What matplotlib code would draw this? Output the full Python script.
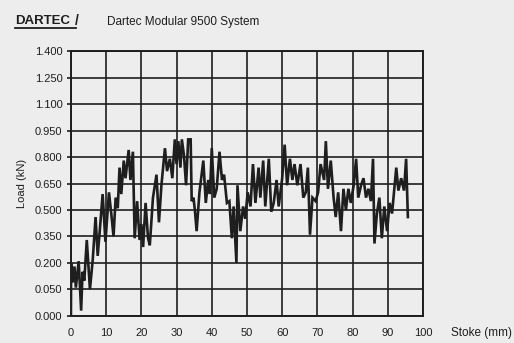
import numpy as np
import matplotlib
matplotlib.use("Agg")
import matplotlib.pyplot as plt
from matplotlib.lines import Line2D

# ---- data ----
stroke_mm = [0.0, 0.05, 0.5, 1.0, 1.4, 2.2, 2.9, 3.3, 3.8, 4.5, 5.4, 6.2, 7.0, 7.6, 8.3, 9.0,
             9.8, 10.8, 11.4, 12.1, 12.7, 13.3, 13.8, 14.3, 15.0, 15.5, 16.4, 16.9, 17.6,
             18.1, 18.8, 19.5, 20.0, 20.5, 21.2, 21.9, 22.4, 23.3, 24.3, 25.0, 25.7, 26.7,
             27.3, 28.1, 28.8, 29.5, 30.0, 30.5, 31.1, 31.5, 32.1, 32.7, 33.3, 34.0, 34.3,
             34.8, 35.2, 35.7, 36.5, 37.1, 37.6, 38.3, 39.0, 39.5, 40.0, 40.7, 41.4, 42.2,
             42.9, 43.5, 44.3, 45.0, 45.7, 46.2, 47.0, 47.3, 48.1, 48.9, 49.5, 50.2, 51.0,
             51.7, 52.4, 53.3, 53.8, 54.6, 55.2, 56.2, 56.9, 57.6, 58.4, 59.0, 60.0, 60.7,
             61.4, 62.2, 62.9, 63.5, 64.3, 65.2, 66.0, 66.7, 67.3, 67.9, 68.6, 69.5, 70.2,
             70.9, 71.9, 72.4, 73.0, 73.8, 74.6, 75.2, 75.9, 76.7, 77.4, 78.1, 78.8, 79.5,
             80.3, 81.0, 81.6, 82.4, 83.1, 83.8, 84.5, 85.2, 85.8, 86.2, 86.9, 87.6, 88.3,
             89.0, 89.8, 90.5, 91.2, 92.4, 93.0, 93.8, 94.6, 95.2, 95.7]
load_kN = [0.00, 0.20, 0.09, 0.18, 0.06, 0.21, 0.01, 0.15, 0.10, 0.33, 0.05, 0.22, 0.46,
           0.24, 0.41, 0.59, 0.32, 0.60, 0.49, 0.35, 0.57, 0.51, 0.74, 0.59, 0.78, 0.68,
           0.84, 0.67, 0.83, 0.34, 0.55, 0.33, 0.42, 0.29, 0.54, 0.34, 0.30, 0.57, 0.70,
           0.43, 0.64, 0.85, 0.72, 0.79, 0.68, 0.90, 0.76, 0.89, 0.74, 0.90, 0.81, 0.64,
           0.90, 0.90, 0.55, 0.57, 0.50, 0.38, 0.60, 0.70, 0.78, 0.54, 0.67, 0.59, 0.85,
           0.57, 0.62, 0.83, 0.67, 0.70, 0.54, 0.55, 0.34, 0.52, 0.20, 0.64, 0.38, 0.52,
           0.45, 0.60, 0.52, 0.76, 0.54, 0.74, 0.57, 0.78, 0.52, 0.79, 0.49, 0.54, 0.67,
           0.52, 0.68, 0.87, 0.64, 0.79, 0.67, 0.76, 0.64, 0.76, 0.57, 0.60, 0.74, 0.36,
           0.57, 0.55, 0.60, 0.76, 0.67, 0.89, 0.62, 0.78, 0.57, 0.46, 0.60, 0.38, 0.62,
           0.50, 0.62, 0.54, 0.64, 0.79, 0.57, 0.64, 0.68, 0.57, 0.62, 0.55, 0.79, 0.31,
           0.48, 0.57, 0.34, 0.52, 0.38, 0.54, 0.48, 0.74, 0.61, 0.68, 0.61, 0.79, 0.46]
y_ticks = [0.000, 0.050, 0.200, 0.350, 0.500, 0.650, 0.800, 0.950, 1.100, 1.250, 1.400]
y_tick_labels = ["0.000", "0.050", "0.200", "0.350", "0.500", "0.650", "0.800",
                 "0.950", "1.100", "1.250", "1.400"]
x_ticks = [0, 10, 20, 30, 40, 50, 60, 70, 80, 90, 100]

# ---- style ----
plt.rcParams['font.family'] = ['Liberation Sans', 'DejaVu Sans']
bg = '#ededed'
ink = '#1e1e1e'

def fwd(v):
    v = np.asarray(v, dtype=float)
    return np.where(v < 0.05, v / 0.05, 1 + (v - 0.05) / 0.15)

def inv(p):
    p = np.asarray(p, dtype=float)
    return np.where(p < 1, p * 0.05, 0.05 + (p - 1) * 0.15)

fig = plt.figure(figsize=(5.14, 3.43), dpi=100, facecolor=bg)
ax = fig.add_axes([0.138, 0.079, 0.685, 0.772])
ax.set_facecolor(bg)
ax.set_yscale('function', functions=(fwd, inv))
ax.set_xlim(0, 100)
ax.set_ylim(0, 1.4)

ax.set_yticks(y_ticks)
ax.set_yticklabels(y_tick_labels)
ax.set_xticks(x_ticks)
ax.minorticks_off()
ax.grid(True, color=ink, linewidth=1.2)
ax.set_axisbelow(True)
for s in ax.spines.values():
    s.set_color(ink)
    s.set_linewidth(1.4)
ax.tick_params(axis='y', length=3, width=1.2, color=ink, pad=3, labelsize=8, labelcolor=ink)
ax.tick_params(axis='x', length=0, pad=9, labelsize=8, labelcolor=ink)

ax.plot(stroke_mm, load_kN, color=ink, linewidth=1.9, solid_joinstyle='miter')

ax.set_ylabel("Load (kN)", fontsize=8, color=ink, labelpad=6)
ax.annotate("Stoke (mm)", xy=(451 / 514, 1 - 333 / 343), xycoords='figure fraction',
            ha='left', va='center', fontsize=8.5, color=ink)

fig.text(15 / 514, 1 - 21 / 343, "DARTEC", fontsize=9.5, fontweight='bold', color=ink,
         ha='left', va='center')
fig.text(75 / 514, 1 - 21 / 343, "/", fontsize=10, fontweight='bold', color=ink,
         ha='left', va='center')
fig.add_artist(Line2D([15 / 514, 76 / 514], [1 - 28 / 343, 1 - 28 / 343],
                      color=ink, linewidth=1.3, transform=fig.transFigure))
fig.text(107 / 514, 1 - 22 / 343, "Dartec Modular 9500 System", fontsize=8.5, color=ink,
         ha='left', va='center')

fig.savefig("out.png", dpi=100, facecolor=bg)
